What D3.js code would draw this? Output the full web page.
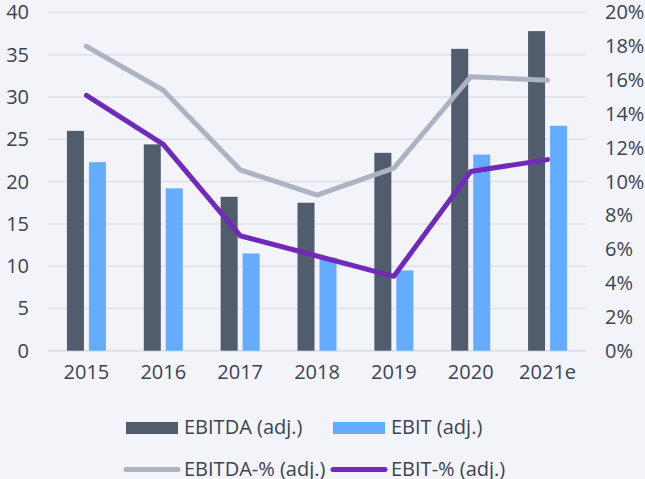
<!DOCTYPE html>
<html>
<head>
<meta charset="utf-8">
<script src="https://cdn.jsdelivr.net/npm/d3@7"></script>
<style>
  body { margin: 0; background: #f3f4f9; }
  #chart text { font-family: "Open Sans", sans-serif; fill: #3b4350; }
</style>
</head>
<body>
<div id="chart"></div>
<script>
// chart data
var years = ["2015", "2016", "2017", "2018", "2019", "2020", "2021e"];
var ebitda = [26.0, 24.4, 18.2, 17.5, 23.4, 35.7, 37.8];
var ebit = [22.3, 19.2, 11.5, 11.0, 9.5, 23.2, 26.6];
var ebitdaPct = [18.0, 15.4, 10.7, 9.2, 10.8, 16.2, 16.0];
var ebitPct = [15.1, 12.2, 6.8, 5.6, 4.4, 10.6, 11.3];
var leftTicks = [0, 5, 10, 15, 20, 25, 30, 35, 40];
var rightTicks = [0, 2, 4, 6, 8, 10, 12, 14, 16, 18, 20];

var width = 645, height = 479;
var plot = {left: 48, right: 586, top: 12.5, bottom: 350.7};

var svg = d3.select("#chart").append("svg")
    .attr("width", width)
    .attr("height", height);

svg.append("rect")
    .attr("width", width)
    .attr("height", height)
    .attr("fill", "#f3f4f9");

var x = d3.scaleBand()
    .domain(years)
    .range([plot.left, plot.right]);

var y = d3.scaleLinear()
    .domain([0, 40])
    .range([plot.bottom, plot.top]);

var y2 = d3.scaleLinear()
    .domain([0, 20])
    .range([plot.bottom, plot.top]);

// gridlines
svg.append("g")
    .selectAll("line")
    .data(leftTicks)
    .enter().append("line")
    .attr("x1", plot.left)
    .attr("x2", plot.right)
    .attr("y1", function(d) { return y(d); })
    .attr("y2", function(d) { return y(d); })
    .attr("stroke", "#dde0e6")
    .attr("stroke-width", function(d) { return d === 0 ? 2 : 1.5; });

// left axis labels
var leftAxis = svg.append("g")
    .attr("transform", "translate(" + 29 + ",0)")
    .call(d3.axisLeft(y).tickValues(leftTicks).tickSize(0).tickPadding(0));
leftAxis.select(".domain").remove();
leftAxis.selectAll("text").style("font-size", "20px");

// right axis labels
var rightAxis = svg.append("g")
    .attr("transform", "translate(" + 605 + ",0)")
    .call(d3.axisRight(y2).tickValues(rightTicks).tickSize(0).tickPadding(0)
        .tickFormat(function(d) { return d + "%"; }));
rightAxis.select(".domain").remove();
rightAxis.selectAll("text").style("font-size", "20px");

// x axis labels
var xAxis = svg.append("g")
    .attr("transform", "translate(0," + 365 + ")")
    .call(d3.axisBottom(x).tickSize(0).tickPadding(0));
xAxis.select(".domain").remove();
xAxis.selectAll("text").style("font-size", "20px");

// bars
var series = ["ebitda", "ebit"];
var colors = {ebitda: "#515c6d", ebit: "#64acff"};
var x1 = d3.scaleBand()
    .domain(series)
    .range([-19.5, 19.5])
    .paddingInner(0.227);

var barData = [];
years.forEach(function(yr, i) {
    barData.push({year: yr, key: "ebitda", value: ebitda[i]});
    barData.push({year: yr, key: "ebit", value: ebit[i]});
});

svg.append("g")
    .selectAll("rect")
    .data(barData)
    .enter().append("rect")
    .attr("x", function(d) { return x(d.year) + x.bandwidth() / 2 + x1(d.key); })
    .attr("width", x1.bandwidth())
    .attr("y", function(d) { return y(d.value); })
    .attr("height", function(d) { return plot.bottom - y(d.value); })
    .attr("fill", function(d) { return colors[d.key]; });

// lines
var line = d3.line()
    .x(function(d, i) { return x(years[i]) + x.bandwidth() / 2; })
    .y(function(d) { return y2(d); });

svg.append("path")
    .datum(ebitdaPct)
    .attr("d", line)
    .attr("fill", "none")
    .attr("stroke", "#adb3c3")
    .attr("stroke-width", 5)
    .attr("stroke-linecap", "round")
    .attr("stroke-linejoin", "round");

svg.append("path")
    .datum(ebitPct)
    .attr("d", line)
    .attr("fill", "none")
    .attr("stroke", "#7029b9")
    .attr("stroke-width", 5)
    .attr("stroke-linecap", "round")
    .attr("stroke-linejoin", "round");

// legend
var legend = svg.append("g");
var boxes = [
    {label: "EBITDA (adj.)", color: colors.ebitda, x: 126},
    {label: "EBIT (adj.)", color: colors.ebit, x: 333}
];
boxes.forEach(function(b) {
    legend.append("rect")
        .attr("x", b.x)
        .attr("y", 422)
        .attr("width", 52)
        .attr("height", 12)
        .attr("fill", b.color);
    legend.append("text")
        .attr("x", b.x + 58)
        .attr("y", 434)
        .style("font-size", "20px")
        .text(b.label);
});
var lineItems = [
    {label: "EBITDA-% (adj.)", color: "#adb3c3", x: 126},
    {label: "EBIT-% (adj.)", color: "#7029b9", x: 333}
];
lineItems.forEach(function(b) {
    legend.append("line")
        .attr("x1", b.x)
        .attr("x2", b.x + 52)
        .attr("y1", 469.5)
        .attr("y2", 469.5)
        .attr("stroke", b.color)
        .attr("stroke-width", 5)
        .attr("stroke-linecap", "round");
    legend.append("text")
        .attr("x", b.x + 58)
        .attr("y", 476)
        .style("font-size", "20px")
        .text(b.label);
});
</script>
</body>
</html>
